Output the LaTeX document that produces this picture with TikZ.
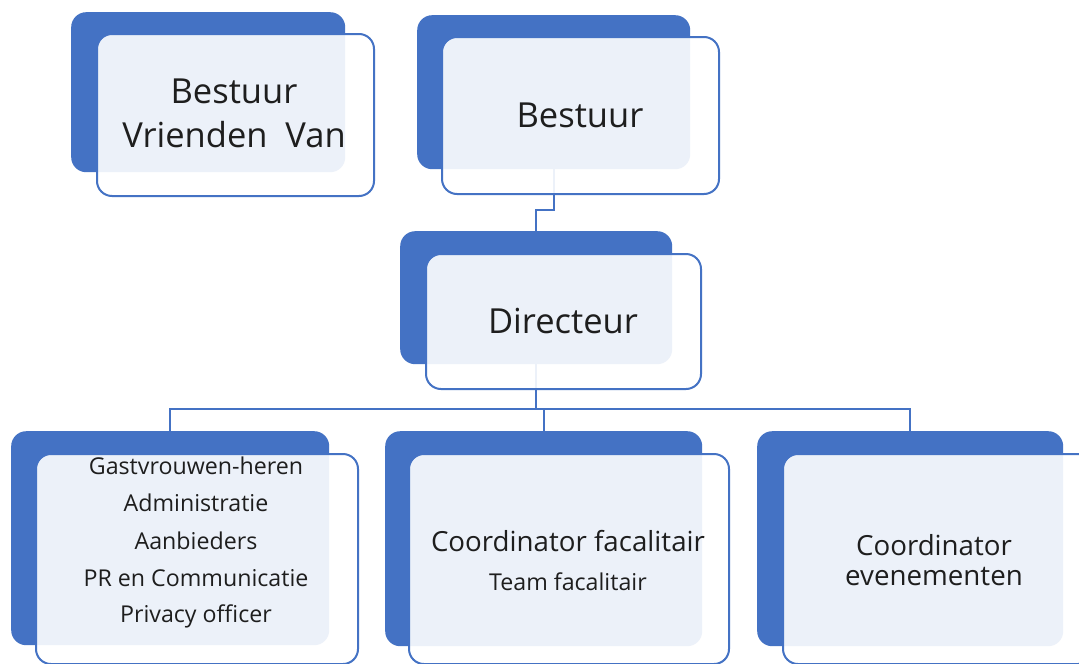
\documentclass[tikz,border=0pt]{standalone}
\usepackage{fontspec}
\setmainfont{Open Sans}
\usetikzlibrary{backgrounds}
\definecolor{acc}{HTML}{4472C4}
\definecolor{txt}{HTML}{1E1E1E}
\begin{document}
\begin{tikzpicture}[x=1pt,y=-1pt,
 backbox/.style={fill=acc, draw=none, rounded corners=15pt, anchor=north west, inner sep=0pt},
 frontbox/.style={draw=acc, line width=2pt, fill=white, fill opacity=0.9, rounded corners=15pt, anchor=north west, inner sep=0pt},
 lbl/.style={anchor=base, text=txt, inner sep=0pt},
 big/.style={lbl, font=\fontsize{34.5}{40}\selectfont},
 mid/.style={lbl, font=\fontsize{27.7}{30}\selectfont},
 small/.style={lbl, font=\fontsize{23.2}{26}\selectfont},
 conn/.style={draw=acc, line width=2pt}]
\useasboundingbox (0,0) rectangle (1079,664);
\clip (0,0) rectangle (1079,664);
% back boxes
\node[backbox, minimum width=274pt, minimum height=160pt] (bb1) at (71,12) {};
\node[backbox, minimum width=273pt, minimum height=154pt] (bb2) at (417,15) {};
\node[backbox, minimum width=272pt, minimum height=133pt] (bbd) at (400,231) {};
\node[backbox, minimum width=318pt, minimum height=214pt] (bbl) at (11,431) {};
\node[backbox, minimum width=317pt, minimum height=215pt] (bbm) at (385,431) {};
\node[backbox, minimum width=306pt, minimum height=215pt] (bbr) at (757,431) {};
% connectors (under the boxes)
\begin{pgfonlayer}{background}
\fill[white] (0,0) rectangle (1079,664);
\draw[conn] (bb2.south) -- ++(0,41) -| (bbd.north);
\draw[conn] (bbd.south) -- ++(0,45) coordinate (hub);
\draw[conn] (hub) -| (bbl.north);
\draw[conn] (hub) -| (bbm.north);
\draw[conn] (hub) -| (bbr.north);
\end{pgfonlayer}
% front boxes
\node[frontbox, minimum width=277pt, minimum height=162pt] (fb1) at (96,33) {};
\node[frontbox, minimum width=277pt, minimum height=157pt] (fb2) at (441,36) {};
\node[frontbox, minimum width=275pt, minimum height=135pt] (fbd) at (425,253) {};
\node[frontbox, minimum width=322pt, minimum height=210pt] (fbl) at (35,453) {};
\node[frontbox, minimum width=320pt, minimum height=210pt] (fbm) at (408,453) {};
\node[frontbox, minimum width=310pt, minimum height=210pt] (fbr) at (782,453) {};
% texts
\node[big] (t1a) at (234,103) {Bestuur};
\node[big] (t1b) at (234,147) {Vrienden\ \ Van};
\node[big] (t2) at (580,127) {Bestuur};
\node[big] (td) at (563,333) {Directeur};
\node[small] (l1) at (196,474) {Gastvrouwen-heren};
\node[small] (l2) at (196,511) {Administratie};
\node[small] (l3) at (196,549) {Aanbieders};
\node[small] (l4) at (196,586) {PR en Communicatie};
\node[small] (l5) at (196,622) {Privacy officer};
\node[mid] (m1) at (568,551) {Coordinator facalitair};
\node[small] (m2) at (568,590) {Team facalitair};
\node[mid] (r1) at (934,555) {Coordinator};
\node[mid] (r2) at (934,585) {evenementen};
\end{tikzpicture}
\end{document}
